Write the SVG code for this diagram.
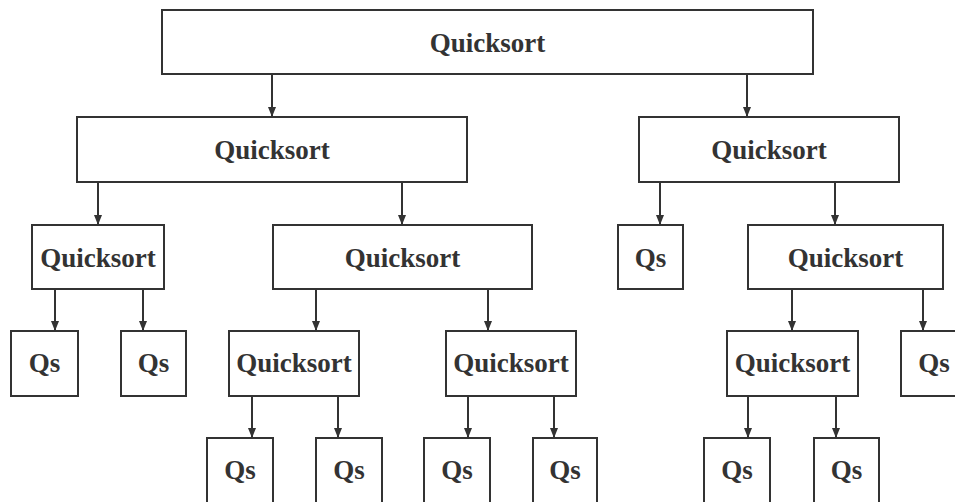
<svg xmlns="http://www.w3.org/2000/svg" width="955" height="502" viewBox="0 0 955 502">
  <style>
    .box { fill: #ffffff; stroke: #333333; stroke-width: 2; }
    .lbl { font-family: "Liberation Serif", "Times New Roman", serif; font-weight: bold; font-size: 27px; fill: #333333; text-anchor: middle; }
    .edge { stroke: #333333; stroke-width: 2; fill: none; marker-end: url(#arrow); }
  </style>
  <defs>
    <marker id="arrow" markerUnits="userSpaceOnUse" viewBox="0 0 10 8" refX="10" refY="4" markerWidth="10" markerHeight="8" orient="auto">
      <path d="M0,0 L10,4 L0,8 z" fill="#333333"/>
    </marker>
  </defs>
  <rect width="955" height="502" fill="#ffffff"/>

  <!-- connectors -->
  <g id="edges">
    <line class="edge" x1="272" y1="74" x2="272" y2="117"/>
    <line class="edge" x1="747" y1="74" x2="747" y2="117"/>
    <line class="edge" x1="98" y1="182" x2="98" y2="225"/>
    <line class="edge" x1="402" y1="182" x2="402" y2="225"/>
    <line class="edge" x1="660" y1="182" x2="660" y2="225"/>
    <line class="edge" x1="835" y1="182" x2="835" y2="225"/>
    <line class="edge" x1="55" y1="289" x2="55" y2="331"/>
    <line class="edge" x1="143" y1="289" x2="143" y2="331"/>
    <line class="edge" x1="316" y1="289" x2="316" y2="331"/>
    <line class="edge" x1="488" y1="289" x2="488" y2="331"/>
    <line class="edge" x1="792" y1="289" x2="792" y2="331"/>
    <line class="edge" x1="923" y1="289" x2="923" y2="331"/>
    <line class="edge" x1="252" y1="396" x2="252" y2="438"/>
    <line class="edge" x1="338" y1="396" x2="338" y2="438"/>
    <line class="edge" x1="468" y1="396" x2="468" y2="438"/>
    <line class="edge" x1="554" y1="396" x2="554" y2="438"/>
    <line class="edge" x1="748" y1="396" x2="748" y2="438"/>
    <line class="edge" x1="836" y1="396" x2="836" y2="438"/>
  </g>

  <!-- level 1 -->
  <g id="n-root">
    <rect class="box" x="162" y="10" width="651" height="64"/>
    <text class="lbl" x="487.5" y="52">Quicksort</text>
  </g>

  <!-- level 2 -->
  <g id="n-l">
    <rect class="box" x="77" y="117" width="390" height="65"/>
    <text class="lbl" x="272" y="159">Quicksort</text>
  </g>
  <g id="n-r">
    <rect class="box" x="639" y="117" width="260" height="65"/>
    <text class="lbl" x="769" y="159">Quicksort</text>
  </g>

  <!-- level 3 -->
  <g id="n-ll">
    <rect class="box" x="32" y="225" width="132" height="64"/>
    <text class="lbl" x="98" y="267">Quicksort</text>
  </g>
  <g id="n-lr">
    <rect class="box" x="273" y="225" width="259" height="64"/>
    <text class="lbl" x="402.5" y="267">Quicksort</text>
  </g>
  <g id="n-rl">
    <rect class="box" x="618" y="225" width="65" height="64"/>
    <text class="lbl" x="650.5" y="267">Qs</text>
  </g>
  <g id="n-rr">
    <rect class="box" x="748" y="225" width="195" height="64"/>
    <text class="lbl" x="845.5" y="267">Quicksort</text>
  </g>

  <!-- level 4 -->
  <g id="n-lll">
    <rect class="box" x="11" y="331" width="67" height="65"/>
    <text class="lbl" x="44.5" y="372">Qs</text>
  </g>
  <g id="n-llr">
    <rect class="box" x="121" y="331" width="65" height="65"/>
    <text class="lbl" x="153.5" y="372">Qs</text>
  </g>
  <g id="n-lrl">
    <rect class="box" x="229" y="331" width="130" height="65"/>
    <text class="lbl" x="294" y="372">Quicksort</text>
  </g>
  <g id="n-lrr">
    <rect class="box" x="446" y="331" width="130" height="65"/>
    <text class="lbl" x="511" y="372">Quicksort</text>
  </g>
  <g id="n-rrl">
    <rect class="box" x="727" y="331" width="131" height="65"/>
    <text class="lbl" x="792.5" y="372">Quicksort</text>
  </g>
  <g id="n-rrr">
    <rect class="box" x="901" y="331" width="66" height="65"/>
    <text class="lbl" x="934" y="372">Qs</text>
  </g>

  <!-- level 5 -->
  <g id="n-lrll">
    <rect class="box" x="207" y="438" width="66" height="66"/>
    <text class="lbl" x="240" y="479">Qs</text>
  </g>
  <g id="n-lrlr">
    <rect class="box" x="316" y="438" width="66" height="66"/>
    <text class="lbl" x="349" y="479">Qs</text>
  </g>
  <g id="n-lrrl">
    <rect class="box" x="424" y="438" width="66" height="66"/>
    <text class="lbl" x="457" y="479">Qs</text>
  </g>
  <g id="n-lrrr">
    <rect class="box" x="533" y="438" width="64" height="66"/>
    <text class="lbl" x="565" y="479">Qs</text>
  </g>
  <g id="n-rrll">
    <rect class="box" x="704" y="438" width="66" height="66"/>
    <text class="lbl" x="737" y="479">Qs</text>
  </g>
  <g id="n-rrlr">
    <rect class="box" x="814" y="438" width="65" height="66"/>
    <text class="lbl" x="846.5" y="479">Qs</text>
  </g>
</svg>
